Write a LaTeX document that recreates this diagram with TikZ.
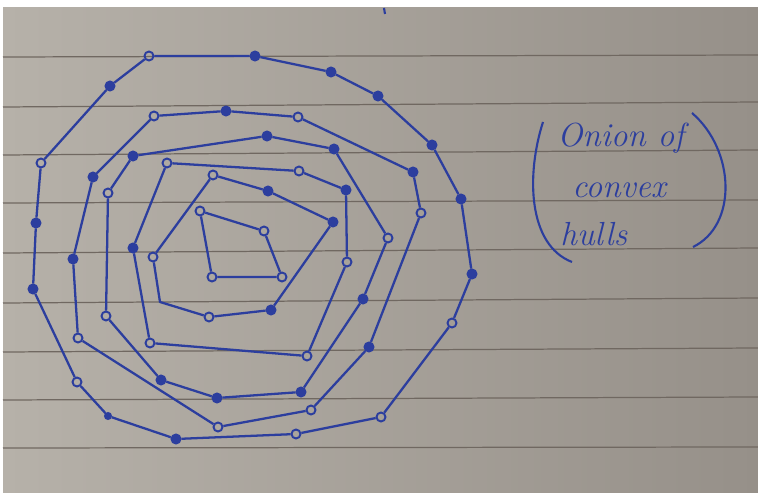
\documentclass[tikz,border=0pt]{standalone}
\usepackage{tikz}

\definecolor{ink}{RGB}{44,62,158}
\definecolor{paper}{RGB}{182,177,169}
\definecolor{paperdark}{RGB}{150,144,137}
\definecolor{rulecol}{RGB}{112,104,97}

\begin{document}
\begin{tikzpicture}[
    x=0.02cm, y=-0.02cm,
    pt/.style={circle, draw=ink, line width=1.1pt, inner sep=0pt, minimum size=0.18cm},
    dot/.style={pt, fill=ink},
    hull/.style={draw=ink, line width=1.3pt, line join=round},
    rule/.style={draw=rulecol, line width=0.7pt},
    note/.style={text=ink, font=\fontsize{19}{22}\selectfont\itshape, anchor=base west, inner sep=0pt}
]
    % paper and ruling
    \useasboundingbox (0,0) rectangle (758,493);
    \fill[white] (0,0) rectangle (758,493);
    \shade[left color=paper, right color=paperdark] (3,8) rectangle (758,493);
    \draw[rule] (3,57) -- (758,55);
    \draw[rule] (3,107) -- (758,102);
    \draw[rule] (3,155) -- (758,150);
    \draw[rule] (3,203) -- (758,200);
    \draw[rule] (3,253) -- (758,248);
    \draw[rule] (3,303) -- (758,298);
    \draw[rule] (3,352) -- (758,348);
    \draw[rule] (3,400) -- (758,397);
    \draw[rule] (3,448) -- (758,447);
    \draw[ink, line width=1.2pt] (384,8) -- (385,14);

    % outer hull
    \node[pt] (a1) at (149,56) {};
    \node[dot] (a2) at (255,56) {};
    \node[dot] (a3) at (331,72) {};
    \node[dot] (a4) at (378,96) {};
    \node[dot] (a5) at (432,145) {};
    \node[dot] (a6) at (461,199) {};
    \node[dot] (a7) at (472,274) {};
    \node[pt] (a8) at (452,323) {};
    \node[pt] (a9) at (381,417) {};
    \node[pt] (a10) at (296,434) {};
    \node[dot] (a11) at (176,439) {};
    \node[dot, minimum size=0.12cm] (a12) at (108,416) {};
    \node[pt] (a13) at (77,382) {};
    \node[dot] (a14) at (33,289) {};
    \node[dot] (a15) at (36,223) {};
    \node[pt] (a16) at (41,163) {};
    \node[dot] (a17) at (110,86) {};

    % second hull
    \node[pt] (b1) at (154,116) {};
    \node[dot] (b2) at (226,111) {};
    \node[pt] (b3) at (298,117) {};
    \node[dot] (b4) at (413,172) {};
    \node[pt] (b5) at (421,213) {};
    \node[dot] (b6) at (369,347) {};
    \node[pt] (b7) at (311,410) {};
    \node[pt] (b8) at (218,427) {};
    \node[pt] (b9) at (78,338) {};
    \node[dot] (b10) at (73,259) {};
    \node[dot] (b11) at (93,177) {};

    % third hull
    \node[dot] (c1) at (133,156) {};
    \node[dot] (c2) at (267,136) {};
    \node[dot] (c3) at (334,149) {};
    \node[pt] (c4) at (388,238) {};
    \node[dot] (c5) at (363,299) {};
    \node[dot] (c6) at (301,392) {};
    \node[dot] (c7) at (217,398) {};
    \node[dot] (c8) at (161,380) {};
    \node[pt] (c9) at (106,316) {};
    \node[pt] (c10) at (108,193) {};

    % fourth hull
    \node[pt] (d1) at (167,163) {};
    \node[pt] (d2) at (299,171) {};
    \node[dot] (d3) at (346,190) {};
    \node[pt] (d4) at (347,262) {};
    \node[pt] (d5) at (307,356) {};
    \node[pt] (d6) at (150,343) {};
    \node[dot] (d7) at (133,248) {};

    % fifth hull
    \node[pt] (e1) at (213,175) {};
    \node[dot] (e2) at (268,191) {};
    \node[dot] (e3) at (333,222) {};
    \node[dot] (e4) at (271,310) {};
    \node[pt] (e5) at (209,317) {};
    \coordinate (e6) at (160,302);
    \node[pt] (e7) at (153,257) {};

    % innermost hull
    \node[pt] (f1) at (200,211) {};
    \node[pt] (f2) at (264,231) {};
    \node[pt] (f3) at (282,277) {};
    \node[pt] (f4) at (212,277) {};

    \draw[hull] (a1) -- (a2) -- (a3) -- (a4) -- (a5) -- (a6) -- (a7) -- (a8) -- (a9) -- (a10) -- (a11) -- (a12) -- (a13) -- (a14) -- (a15) -- (a16) -- (a17) -- (a1);
    \draw[hull] (b1) -- (b2) -- (b3) -- (b4) -- (b5) -- (b6) -- (b7) -- (b8) -- (b9) -- (b10) -- (b11) -- (b1);
    \draw[hull] (c1) -- (c2) -- (c3) -- (c4) -- (c5) -- (c6) -- (c7) -- (c8) -- (c9) -- (c10) -- (c1);
    \draw[hull] (d1) -- (d2) -- (d3) -- (d4) -- (d5) -- (d6) -- (d7) -- (d1);
    \draw[hull] (e1) -- (e2) -- (e3) -- (e4) -- (e5) -- (e6) -- (e7) -- (e1);
    \draw[hull] (f1) -- (f2) -- (f3) -- (f4) -- (f1);

    % the note
    \node[note] (t1) at (557,147) {Onion of};
    \node[note] (t2) at (572,198) {convex};
    \node[note] (t3) at (560,246) {hulls};
    \draw[ink, line width=1.2pt] (543,122) .. controls (526,175) and (528,245) .. (572,262);
    \draw[ink, line width=1.2pt] (692,113) .. controls (735,150) and (738,225) .. (693,247);
\end{tikzpicture}
\end{document}
